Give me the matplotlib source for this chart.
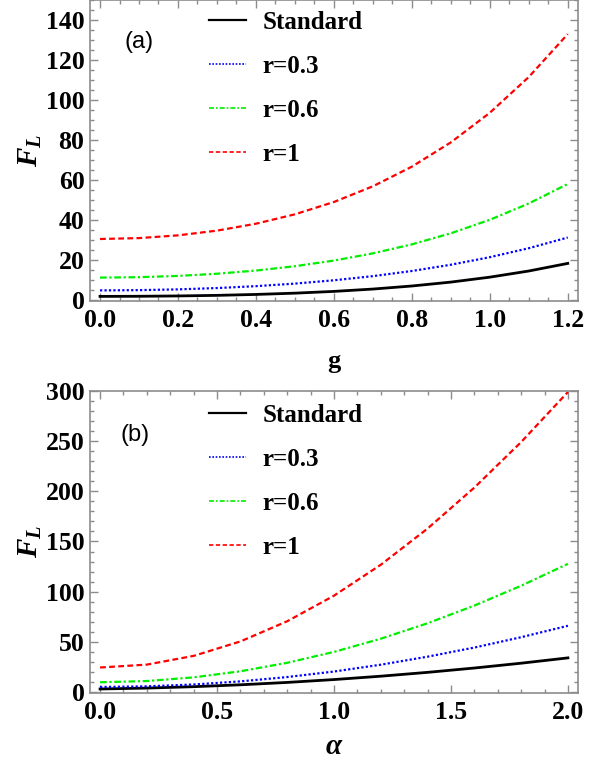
import matplotlib
matplotlib.use("Agg")
import matplotlib.pyplot as plt
from matplotlib.ticker import MultipleLocator

plt.rcParams['mathtext.fontset'] = 'custom'
plt.rcParams['mathtext.it'] = 'Liberation Serif:bold:italic'
plt.rcParams['mathtext.rm'] = 'Liberation Serif:bold'
plt.rcParams['mathtext.bf'] = 'Liberation Serif:bold'

# ---- panel (a): F_L versus g ----
g_vals = [0.0, 0.1, 0.2, 0.3, 0.4, 0.5, 0.6, 0.7, 0.8, 0.9, 1.0, 1.1, 1.2]
a_standard = [1.80, 1.86, 2.03, 2.32, 2.78, 3.42, 4.30, 5.47, 7.00, 8.95, 11.42, 14.50, 18.30]
a_r03 = [4.80, 4.93, 5.31, 5.97, 6.92, 8.20, 9.85, 11.93, 14.50, 17.63, 21.40, 25.90, 31.24]
a_r06 = [11.20, 11.41, 12.04, 13.13, 14.72, 16.89, 19.72, 23.31, 27.81, 33.35, 40.10, 48.25, 58.01]
a_r1 = [30.50, 30.95, 32.32, 34.68, 38.14, 42.84, 49.00, 56.85, 66.67, 78.80, 93.60, 111.50, 132.96]

# ---- panel (b): F_L versus alpha ----
alpha_vals = [0.0, 0.2, 0.4, 0.6, 0.8, 1.0, 1.2, 1.4, 1.6, 1.8, 2.0]
b_standard = [3.0, 3.9, 5.3, 7.18, 9.54, 12.4, 15.74, 19.58, 23.9, 28.7, 34.0]
b_r03 = [5.0, 5.62, 7.48, 10.57, 14.9, 20.4, 27.2, 35.2, 44.3, 54.6, 66.0]
b_r06 = [9.7, 10.92, 14.58, 20.65, 29.1, 39.95, 53.1, 68.5, 86.1, 105.9, 127.7]
b_r1 = [24.4, 27.3, 36.0, 50.4, 70.5, 96.0, 126.8, 162.9, 203.7, 249.1, 299.0]

labels = ["Standard", "r=0.3", "r=0.6", "r=1"]
colors = ["black", "#0000ff", "#00ee00", "#ff0000"]
styles = ["-", (0, (1.0, 1.0)), (0, (3.0, 1.2, 1.0, 1.2)), (0, (2.6, 1.5))]
widths = [2.0, 1.6, 1.6, 1.6]

W, H = 612, 761
fig = plt.figure(figsize=(W / 100, H / 100), dpi=100)

serif_bold = dict(family="Liberation Serif", weight="bold")
frame_col = "#8c8c8c"


def make_axes(rect_px):
    x0, ytop, x1, ybot = rect_px
    return fig.add_axes([x0 / W, 1 - ybot / H, (x1 - x0) / W, (ybot - ytop) / H])


def style_axes(ax, xmaj, xmin, ymaj, ymin):
    for s in ax.spines.values():
        s.set_color(frame_col)
        s.set_linewidth(1.2)
    ax.xaxis.set_major_locator(MultipleLocator(xmaj))
    ax.xaxis.set_minor_locator(MultipleLocator(xmin))
    ax.yaxis.set_major_locator(MultipleLocator(ymaj))
    ax.yaxis.set_minor_locator(MultipleLocator(ymin))
    ax.tick_params(which="both", direction="in", top=True, right=True,
                   color=frame_col, width=1.0)
    ax.tick_params(which="major", length=6)
    ax.tick_params(axis="x", which="major", pad=6)
    ax.tick_params(axis="y", which="major", pad=4)
    ax.tick_params(which="minor", length=3)


def draw_panel(ax, x, series):
    for y, lab, c, ls, lw in zip(series, labels, colors, styles, widths):
        ax.plot(x, y, color=c, linestyle=ls, linewidth=lw, label=lab)


def add_legend(ax, anchor):
    leg = ax.legend(loc="upper left", bbox_to_anchor=anchor, frameon=False,
                    prop=dict(family="Liberation Serif", weight="bold", size=18),
                    handlelength=1.5, handletextpad=0.65, labelspacing=0.84,
                    borderpad=0, borderaxespad=0)
    for ln in leg.get_lines():
        ln.set_linewidth(1.2 if ln.get_color() != "black" else 1.6)
    return leg


def bold_ticklabels(ax):
    for lab in ax.get_xticklabels() + ax.get_yticklabels():
        lab.set_fontfamily("Liberation Serif")
        lab.set_fontweight("bold")
        lab.set_fontsize(18.5)


# panel (a)
ax1 = make_axes((90, 0, 577.5, 301))
draw_panel(ax1, g_vals, [a_standard, a_r03, a_r06, a_r1])
ax1.set_xlim(-0.0257, 1.225)
ax1.set_ylim(-0.5, 150)
style_axes(ax1, 0.2, 0.05, 20, 5)
ax1.set_xticks([0.0, 0.2, 0.4, 0.6, 0.8, 1.0, 1.2])
ax1.set_xticklabels(["0.0", "0.2", "0.4", "0.6", "0.8", "1.0", "1.2"])
bold_ticklabels(ax1)
add_legend(ax1, (0.244, 0.965))
ax1.text(0.101, 0.86, "(a)", transform=ax1.transAxes, family="Liberation Sans",
         fontsize=17, ha="center", va="center")
ax1.set_xlabel("g", **serif_bold, size=19, labelpad=13)
ax1.set_ylabel(r"$F_L$", size=21, labelpad=1)

# panel (b)
ax2 = make_axes((90, 391, 577.5, 692.5))
draw_panel(ax2, alpha_vals, [b_standard, b_r03, b_r06, b_r1])
ax2.set_xlim(-0.043, 2.041)
ax2.set_ylim(-0.5, 300)
style_axes(ax2, 0.5, 0.1, 50, 10)
ax2.set_xticks([0.0, 0.5, 1.0, 1.5, 2.0])
ax2.set_xticklabels(["0.0", "0.5", "1.0", "1.5", "2.0"])
bold_ticklabels(ax2)
add_legend(ax2, (0.244, 0.958))
ax2.text(0.093, 0.855, "(b)", transform=ax2.transAxes, family="Liberation Sans",
         fontsize=17, ha="center", va="center")
ax2.set_xlabel(r"$\alpha$", size=21, labelpad=6)
ax2.set_ylabel(r"$F_L$", size=21, labelpad=1)

fig.savefig("out.png", dpi=100)
